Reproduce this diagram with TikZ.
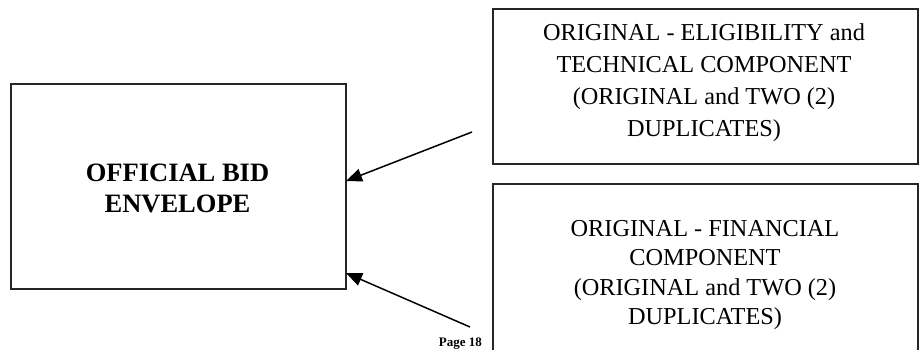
\documentclass[tikz,border=0pt]{standalone}
\usepackage{fontspec}
\setmainfont{Liberation Serif}
\usetikzlibrary{arrows.meta}
\begin{document}
\begin{tikzpicture}[x=1pt,y=-1pt,
  boxstyle/.style={draw=black!85,line width=1.5pt,inner sep=0pt,anchor=north west},
  txt/.style={align=center,font=\fontsize{24.3}{32}\selectfont,inner sep=0pt},
  arr/.style={line width=1.5pt,-{Triangle[length=16pt,width=13pt]}}]
\useasboundingbox (0,0) rectangle (921,349);
\fill[white] (0,0) rectangle (921,349);
% boxes
\node[boxstyle,minimum width=335pt,minimum height=205pt] (env) at (10,83) {};
\node[boxstyle,minimum width=425pt,minimum height=155pt] (tech) at (492,8) {};
\node[boxstyle,minimum width=425pt,minimum height=210pt] (fin) at (492,183) {};
% texts
\node[txt,font=\bfseries\fontsize{26.5}{31}\selectfont] (envt) at (177.5,188) {OFFICIAL BID\\ENVELOPE};
\node[txt] (techt) at (704,83) {ORIGINAL - ELIGIBILITY and\\TECHNICAL COMPONENT\\(ORIGINAL and TWO (2)\\DUPLICATES)};
\node[txt,font=\fontsize{24.3}{29.2}\selectfont] (fint) at (705,275) {ORIGINAL - FINANCIAL\\COMPONENT\\(ORIGINAL and TWO (2)\\DUPLICATES)};
\node[anchor=base east,inner sep=0pt,font=\bfseries\fontsize{13}{13}\selectfont] (page) at (482,346) {Page 18};
% arrows
\coordinate (s1) at (472,132);
\coordinate (e1) at (346,181);
\coordinate (s2) at (470,327);
\coordinate (e2) at (346,273);
\draw[arr] (s1) -- (e1);
\draw[arr] (s2) -- (e2);
\end{tikzpicture}
\end{document}
